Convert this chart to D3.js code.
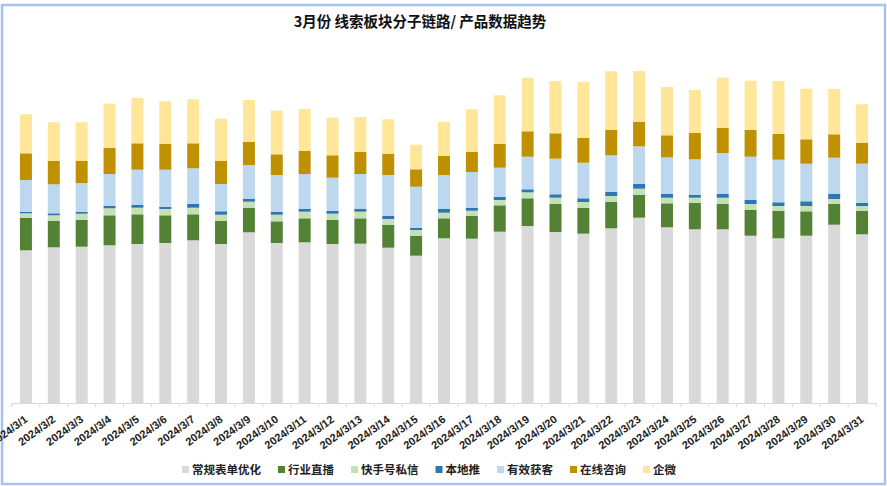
<!DOCTYPE html>
<html><head><meta charset="utf-8">
<script src="https://cdn.jsdelivr.net/npm/d3@7"></script>
<style>
html,body{margin:0;padding:0;background:#fff;}
svg{display:block;}
</style></head>
<body><svg id="c" width="887" height="486"></svg>
<script>
const title = "3月份 线索板块分子链路/ 产品数据趋势";
const dates = ["2024/3/1","2024/3/2","2024/3/3","2024/3/4","2024/3/5","2024/3/6","2024/3/7","2024/3/8","2024/3/9","2024/3/10","2024/3/11","2024/3/12","2024/3/13","2024/3/14","2024/3/15","2024/3/16","2024/3/17","2024/3/18","2024/3/19","2024/3/20","2024/3/21","2024/3/22","2024/3/23","2024/3/24","2024/3/25","2024/3/26","2024/3/27","2024/3/28","2024/3/29","2024/3/30","2024/3/31"];
const seriesNames = ["常规表单优化","行业直播","快手号私信","本地推","有效获客","在线咨询","企微"];
const seriesColors = ["#d9d9d9","#548235","#c5e0b4","#2e75b6","#bdd7ee","#bf9000","#ffe699"];
const formOpt   = [152.7,155.7,156.3,157.7,159,160,162.7,159,170.7,160,160.7,159,159.3,155.3,147.3,164.7,164.3,171.3,177,171,169.3,174.7,185.3,175.7,173.7,173.7,167.3,164.7,167.3,178.3,168.7];
const liveInd   = [32.3,26.3,27,30,29.7,27.7,26,23,24.3,21.7,24,24,25.4,23,20,20,22.7,26.4,27.7,28,26,26.3,23,24,26.3,25.6,26,27.3,24.4,20.7,23.6];
const ksPrivate = [4.7,5.7,6,7,6.6,6.3,6.6,6.3,6.3,6.6,6.6,6.3,6.6,5.7,5.7,5.6,5.3,5.3,6,6.3,5.7,6,6,5.6,5.3,6,5.7,5,5.3,5,4.7];
const localPush = [1.6,2,2,2.3,2.7,2.3,3.7,3.4,3,2.7,3,2.7,3,3,2.3,4,3,3.3,3,3.4,3.7,4,4.7,3.7,2.7,3.7,4,3.7,4.7,5,3.3];
const effective = [31.7,29,28.7,32,35.3,37,35.7,27.3,33.7,37,34.7,33.3,34.7,41,41,33.7,35.7,29,32.6,35.6,35.6,36.7,37.7,36.7,35.7,41,43.3,42.6,37.6,36.3,39];
const onlineAsk = [26.7,23.3,22,26,26.4,26,25,23,23,20.7,23,22.4,22,21.3,17.4,19.3,20.3,24,25.4,25.4,24.7,25.6,24.6,22,26.3,25.3,26.7,25.7,24.4,23.4,20.7];
const wecom     = [39,38.7,38.7,44.3,45.3,42.4,44,42.3,42,43.6,42,37.6,35,34.4,24.6,34,42.4,48.4,53.6,52.3,56,58.4,50.7,48.3,43,50,49.3,53,50.6,45.3,38.7];
const seriesVals = [formOpt, liveInd, ksPrivate, localPush, effective, onlineAsk, wecom];

const table = dates.map((d,i)=>{const o={date:d}; seriesNames.forEach((s,j)=>o[s]=seriesVals[j][i]); return o;});

const svg = d3.select("#c");
const fontCJK = "'Noto Sans CJK SC','Liberation Sans',sans-serif";

// outer border
svg.append("rect").attr("x",2).attr("y",5).attr("width",883).attr("height",479)
  .attr("fill","#fff").attr("stroke","#a9c0f4").attr("stroke-width",2.5);

const x = d3.scaleBand().domain(dates).range([12,876]).paddingInner(0.57).paddingOuter(0.285);
const y = d3.scaleLinear().domain([0,340]).range([403,63]);

const stack = d3.stack().keys(seriesNames)(table);

svg.append("g").selectAll("g").data(stack).join("g")
  .attr("fill",(d,i)=>seriesColors[i])
  .selectAll("rect").data(d=>d).join("rect")
  .attr("x",d=>x(d.data.date))
  .attr("width",x.bandwidth())
  .attr("y",d=>y(d[1]))
  .attr("height",d=>y(d[0])-y(d[1]));

// axis
const xAxis = d3.axisBottom(x).tickSize(0).tickFormat(d=>d);
const ax = svg.append("g").attr("transform","translate(0,403)").call(xAxis);
ax.select(".domain").attr("stroke","#d9d9d9").attr("stroke-width",1);
ax.selectAll(".tick text")
  .attr("font-family","'Liberation Sans',Arial,sans-serif")
  .attr("font-weight","bold").attr("font-size","11px").attr("fill","#222")
  .attr("text-anchor","end")
  .attr("dy",null).attr("y",0)
  .attr("transform","translate(2.5,18) rotate(-36)");
// category boundary ticks
const step = x.step();
const bounds = dates.map(d=>x(d)-(step-x.bandwidth())/2).concat([x(dates[dates.length-1])+x.bandwidth()+(step-x.bandwidth())/2]);
svg.append("g").selectAll("line").data(bounds).join("line")
  .attr("x1",d=>d).attr("x2",d=>d).attr("y1",403).attr("y2",407)
  .attr("stroke","#d9d9d9");

// title
svg.append("text").attr("x",420).attr("y",27).attr("text-anchor","middle")
  .attr("font-family",fontCJK).attr("font-weight","bold").attr("font-size","14.5px")
  .attr("fill","#111").text(title);

// legend
const lg = svg.append("g");
let lx = 182;
seriesNames.forEach((s,i)=>{
  const g = lg.append("g").attr("transform",`translate(${lx},470)`);
  g.append("rect").attr("x",0).attr("y",-4).attr("width",7).attr("height",7).attr("fill",seriesColors[i]);
  const t = g.append("text").attr("x",10).attr("y",4).attr("font-family",fontCJK)
    .attr("font-weight","bold").attr("font-size","11.5px").attr("fill","#222").text(s);
  lx += 10 + t.node().getComputedTextLength() + 17;
});
</script>
</body></html>
